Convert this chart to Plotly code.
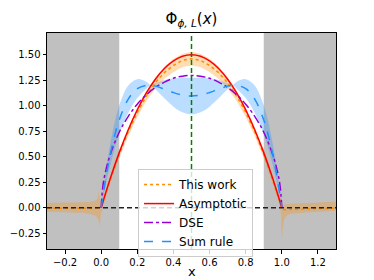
import plotly.graph_objects as go

# ---------------- data ----------------
# Asymptotic
x_asy = [0.0, 0.05, 0.1, 0.15, 0.2, 0.25, 0.3, 0.35, 0.4, 0.45, 0.5,
         0.55, 0.6, 0.65, 0.7, 0.75, 0.8, 0.85, 0.9, 0.95, 1.0]
y_asy = [0.0, 0.285, 0.54, 0.765, 0.96, 1.125, 1.26, 1.365, 1.44, 1.485, 1.5,
         1.485, 1.44, 1.365, 1.26, 1.125, 0.96, 0.765, 0.54, 0.285, 0.0]

# DSE
x_dse = [0.0, 0.01, 0.025, 0.05, 0.1, 0.15, 0.2, 0.25, 0.3, 0.35, 0.4, 0.45, 0.5,
         0.55, 0.6, 0.65, 0.7, 0.75, 0.8, 0.85, 0.9, 0.95, 0.975, 0.99, 1.0]
y_dse = [0.0, 0.22, 0.361, 0.52, 0.74, 0.896, 1.015, 1.107, 1.179, 1.232, 1.269, 1.29, 1.297,
         1.29, 1.269, 1.232, 1.179, 1.107, 1.015, 0.896, 0.74, 0.52, 0.361, 0.22, 0.0]

# Sum rule (central + band)
x_sr = [0.0, 0.025, 0.05, 0.075, 0.1, 0.15, 0.2, 0.25, 0.275, 0.3, 0.35, 0.4, 0.45, 0.5,
        0.55, 0.6, 0.65, 0.7, 0.725, 0.75, 0.8, 0.85, 0.9, 0.925, 0.95, 0.975, 1.0]
y_sr = [0.0, 0.285, 0.52, 0.71, 0.861, 1.065, 1.167, 1.201, 1.2, 1.192, 1.162, 1.129, 1.104, 1.095,
        1.104, 1.129, 1.162, 1.192, 1.2, 1.201, 1.167, 1.065, 0.861, 0.71, 0.52, 0.285, 0.0]
sr_lo = [0.0, 0.223, 0.415, 0.579, 0.718, 0.931, 1.075, 1.167, 1.198, 1.162, 1.072, 0.991, 0.935, 0.915,
         0.935, 0.991, 1.072, 1.162, 1.198, 1.167, 1.075, 0.931, 0.718, 0.579, 0.415, 0.223, 0.0]
sr_hi = [0.0, 0.347, 0.624, 0.840, 1.003, 1.198, 1.260, 1.235, 1.202, 1.222, 1.252, 1.267, 1.273, 1.275,
         1.273, 1.267, 1.252, 1.222, 1.202, 1.235, 1.260, 1.198, 1.003, 0.840, 0.624, 0.347, 0.0]

# This work (central + band)
x_tw = [-0.3, -0.25, -0.2, -0.15, -0.1, -0.07, -0.05, -0.03, -0.02, -0.014, -0.009, -0.004,
        0.0,
        0.05, 0.1, 0.15, 0.2, 0.25, 0.3, 0.35, 0.4, 0.45, 0.5,
        0.55, 0.6, 0.65, 0.7, 0.75, 0.8, 0.85, 0.9, 0.95,
        0.98, 0.995, 1.0, 1.005, 1.012, 1.02, 1.035, 1.05, 1.1, 1.15, 1.2, 1.25, 1.3]
y_tw = [-0.005, -0.005, -0.008, -0.01, -0.01, -0.01, -0.012, -0.012, -0.01, -0.005, -0.01, -0.005,
        0.0,
        0.275, 0.525, 0.745, 0.935, 1.095, 1.225, 1.325, 1.395, 1.445, 1.46,
        1.445, 1.395, 1.325, 1.225, 1.095, 0.935, 0.745, 0.525, 0.275,
        0.11, 0.03, -0.01, -0.02, -0.02, -0.02, -0.02, -0.02, -0.015, -0.01, -0.01, -0.005, -0.005]
tw_hi = [0.045, 0.05, 0.05, 0.05, 0.05, 0.055, 0.06, 0.07, 0.09, 0.16, 0.10, 0.05,
         0.04,
         0.31, 0.565, 0.785, 0.98, 1.145, 1.28, 1.385, 1.46, 1.51, 1.53,
         1.51, 1.46, 1.385, 1.28, 1.145, 0.98, 0.785, 0.565, 0.31,
         0.15, 0.07, 0.04, 0.03, 0.03, 0.035, 0.035, 0.04, 0.04, 0.045, 0.05, 0.055, 0.06]
tw_lo = [-0.04, -0.04, -0.045, -0.05, -0.05, -0.06, -0.07, -0.08, -0.10, -0.13, -0.19, -0.10,
         -0.05,
         0.24, 0.485, 0.705, 0.89, 1.045, 1.17, 1.265, 1.33, 1.38, 1.395,
         1.38, 1.33, 1.265, 1.17, 1.045, 0.89, 0.705, 0.485, 0.24,
         0.07, -0.05, -0.32, -0.2, -0.12, -0.09, -0.07, -0.06, -0.05, -0.045, -0.04, -0.035, -0.03]

x_ticks = [-0.2, 0.0, 0.2, 0.4, 0.6, 0.8, 1.0, 1.2]
y_ticks = [-0.25, 0.0, 0.25, 0.5, 0.75, 1.0, 1.25, 1.5]
x_range = [-0.3, 1.3]
y_range = [-0.405, 1.713]
excluded = [(-0.3, 0.1), (0.9, 1.3)]

# ---------------- figure ----------------
fig = go.Figure()

# bands
fig.add_trace(go.Scatter(x=x_sr, y=sr_lo, mode="lines", line=dict(width=0, shape="spline"),
                         showlegend=False, hoverinfo="skip"))
fig.add_trace(go.Scatter(x=x_sr, y=sr_hi, mode="lines", line=dict(width=0, shape="spline"),
                         fill="tonexty", fillcolor="rgba(30,144,255,0.3)",
                         showlegend=False, hoverinfo="skip"))
fig.add_trace(go.Scatter(x=x_tw, y=tw_lo, mode="lines", line=dict(width=0),
                         showlegend=False, hoverinfo="skip"))
fig.add_trace(go.Scatter(x=x_tw, y=tw_hi, mode="lines", line=dict(width=0),
                         fill="tonexty", fillcolor="rgba(255,140,0,0.3)",
                         showlegend=False, hoverinfo="skip"))

# lines
fig.add_trace(go.Scatter(x=x_tw, y=y_tw, mode="lines", name="This work",
                         line=dict(color="darkorange", width=1.5, dash="dot")))
fig.add_trace(go.Scatter(x=x_asy, y=y_asy, mode="lines", name="Asymptotic",
                         line=dict(color="red", width=1.5, shape="spline")))
fig.add_trace(go.Scatter(x=x_dse, y=y_dse, mode="lines", name="DSE",
                         line=dict(color="darkviolet", width=1.5, dash="dashdot", shape="spline")))
fig.add_trace(go.Scatter(x=x_sr, y=y_sr, mode="lines", name="Sum rule",
                         line=dict(color="dodgerblue", width=1.5, dash="dash", shape="spline")))

# horizontal zero line
fig.add_trace(go.Scatter(x=x_range, y=[0, 0], mode="lines", showlegend=False, hoverinfo="skip",
                         line=dict(color="#222222", width=1.5, dash="5px,3px")))

shapes = []
for a, b in excluded:
    shapes.append(dict(type="rect", xref="x", yref="paper", x0=a, x1=b, y0=0, y1=1,
                       fillcolor="#c0c0c0", line=dict(width=0), layer="below"))
shapes.append(dict(type="line", xref="x", yref="paper", x0=0.5, x1=0.5, y0=0, y1=1,
                   line=dict(color="green", width=1.5, dash="5px,3px"), layer="above"))

fig.update_layout(
    width=374, height=280,
    margin=dict(l=47, r=38, t=33, b=31, autoexpand=False),
    paper_bgcolor="white", plot_bgcolor="white",
    font=dict(family="DejaVu Sans", size=10, color="black"),
    shapes=shapes,
    title=dict(text="Φ<sub><i>ϕ, L</i></sub>(<i>x</i>)", x=0.5, xref="paper",
               y=1 - 19 / 280, yref="container", yanchor="middle",
               font=dict(size=15, color="black")),
    legend=dict(x=0.315, y=0.37, xanchor="left", yanchor="top", traceorder="normal",
                bgcolor="rgba(255,255,255,0.8)", bordercolor="#cccccc", borderwidth=1,
                font=dict(size=12), tracegroupgap=0, itemwidth=30),
    showlegend=True,
    annotations=[dict(text="x", xref="paper", yref="paper", x=0.5, y=-0.102,
                      xanchor="center", yanchor="middle", showarrow=False,
                      font=dict(size=13, color="black"))],
)
fig.update_xaxes(range=x_range, tickvals=x_ticks, tickformat=".1f", automargin=False,
                 ticks="outside", ticklen=3.5, tickwidth=0.8, tickcolor="black",
                 showline=True, linecolor="black", linewidth=1, mirror=True,
                 showgrid=False, zeroline=False)
fig.update_yaxes(range=y_range, tickvals=y_ticks, tickformat=".2f", automargin=False,
                 ticks="outside", ticklen=3.5, tickwidth=0.8, tickcolor="black",
                 showline=True, linecolor="black", linewidth=1, mirror=True,
                 showgrid=False, zeroline=False)

fig.write_html("out.html", config={"displayModeBar": False},
               post_script="document.body.style.margin='0';document.body.style.overflow='hidden';")
